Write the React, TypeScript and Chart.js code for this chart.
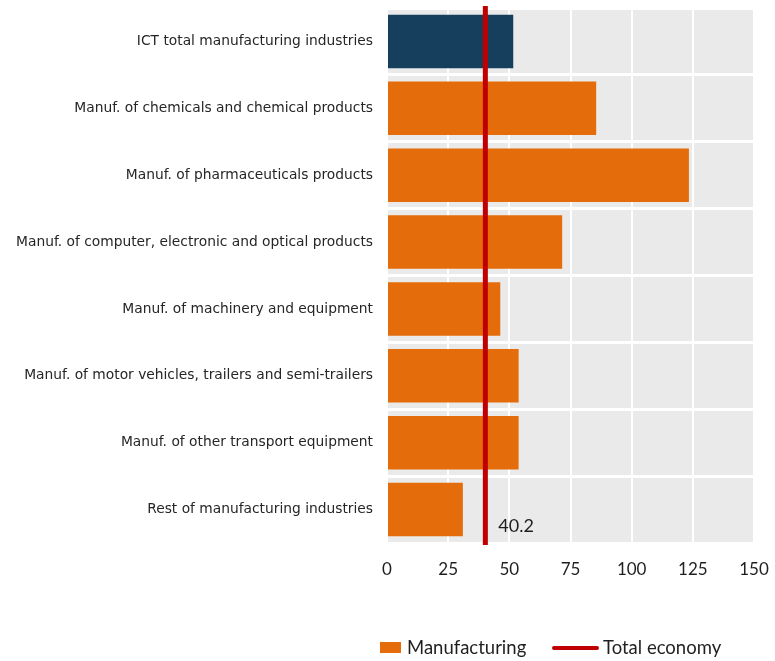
import React, { useEffect, useRef } from "react";
import { Chart, registerables } from "chart.js";

Chart.register(...registerables);

const categories = [
  "ICT total manufacturing industries",
  "Manuf. of chemicals and chemical products",
  "Manuf. of pharmaceuticals products",
  "Manuf. of computer, electronic and optical products",
  "Manuf. of machinery and equipment",
  "Manuf. of motor vehicles, trailers and semi-trailers",
  "Manuf. of other transport equipment",
  "Rest of manufacturing industries",
];
const manufacturingValues = [51.6, 85.5, 123.4, 71.6, 46.3, 53.8, 53.8, 31.0];
const totalEconomy = 40.2;
const xTicks = [0, 25, 50, 75, 100, 125, 150];
const seriesNames = ["Manufacturing", "Total economy"];

const NAVY = "#153f5c";
const ORANGE = "#e46c0a";
const RED = "#c00000";
const GREY_BG = "#eaeaea";
const TEXT = "#1f1f1f";

const bgPlugin = {
  id: "plotBg",
  beforeDraw(chart: any) {
    const { ctx, chartArea } = chart;
    ctx.save();
    ctx.fillStyle = GREY_BG;
    ctx.fillRect(chartArea.left, chartArea.top, chartArea.right - chartArea.left, chartArea.bottom - chartArea.top);
    ctx.restore();
  },
};

const refLinePlugin = {
  id: "refLine",
  afterDatasetsDraw(chart: any) {
    const { ctx, chartArea, scales } = chart;
    const x = scales.x.getPixelForValue(totalEconomy);
    ctx.save();
    ctx.strokeStyle = RED;
    ctx.lineWidth = 5;
    ctx.beginPath();
    ctx.moveTo(x, chartArea.top - 2);
    ctx.lineTo(x, chartArea.bottom + 2);
    ctx.stroke();
    ctx.fillStyle = TEXT;
    ctx.font = "18px Lato, 'Open Sans', sans-serif";
    ctx.textBaseline = "alphabetic";
    ctx.textAlign = "left";
    ctx.fillText(totalEconomy.toFixed(1), x + 13, chartArea.bottom - 11);
    ctx.restore();
  },
};

const legendPlugin = {
  id: "customLegend",
  afterDraw(chart: any) {
    const { ctx } = chart;
    const y = 648;
    ctx.save();
    ctx.font = "18.5px Lato, 'Open Sans', sans-serif";
    ctx.textBaseline = "middle";
    ctx.textAlign = "left";
    ctx.fillStyle = ORANGE;
    ctx.fillRect(380, y - 6, 21, 11);
    ctx.fillStyle = TEXT;
    ctx.fillText(seriesNames[0], 407, y);
    ctx.strokeStyle = RED;
    ctx.lineWidth = 4;
    ctx.lineCap = "round";
    ctx.beginPath();
    ctx.moveTo(554, y);
    ctx.lineTo(597, y);
    ctx.stroke();
    ctx.fillStyle = TEXT;
    ctx.fillText(seriesNames[1], 603, y);
    ctx.restore();
  },
};

export default function App() {
  const ref = useRef<HTMLCanvasElement>(null);
  useEffect(() => {
    document.body.style.margin = "0";
    const chart = new Chart(ref.current as HTMLCanvasElement, {
      type: "bar",
      data: {
        labels: categories,
        datasets: [
          {
            label: seriesNames[0],
            data: manufacturingValues,
            backgroundColor: manufacturingValues.map((_, i) => (i === 0 ? NAVY : ORANGE)),
            borderWidth: 0,
            barPercentage: 0.8,
            categoryPercentage: 1,
          },
        ],
      },
      options: {
        indexAxis: "y",
        animation: false,
        responsive: false,
        layout: { padding: { top: 8, right: 21, bottom: 68, left: 0 } },
        plugins: { legend: { display: false }, tooltip: { enabled: false } },
        scales: {
          x: {
            min: 0,
            max: 150,
            afterBuildTicks(scale: any) {
              scale.ticks = xTicks.map((v) => ({ value: v }));
            },
            afterFit(scale: any) {
              scale.height = 50;
              scale.paddingLeft = 0;
              scale.paddingRight = 0;
            },
            grid: { color: "#ffffff", lineWidth: 2, drawTicks: false },
            border: { display: false },
            ticks: {
              color: TEXT,
              padding: 16,
              font: { family: "Lato, 'Open Sans', sans-serif", size: 17 },
            },
          },
          y: {
            afterFit(scale: any) {
              scale.width = 387;
              scale.paddingTop = 0;
              scale.paddingBottom = 0;
            },
            grid: { color: "#ffffff", lineWidth: 3, drawTicks: false, offset: true },
            border: { display: false },
            ticks: {
              color: "#262626",
              padding: 14,
              font: { family: "'DejaVu Sans', sans-serif", size: 13.8 },
            },
          },
        },
      },
      plugins: [bgPlugin, refLinePlugin, legendPlugin],
    } as any);
    return () => chart.destroy();
  }, []);
  return (
    <div style={{ width: 775, height: 661 }}>
      <canvas ref={ref} width={775} height={661} />
    </div>
  );
}
